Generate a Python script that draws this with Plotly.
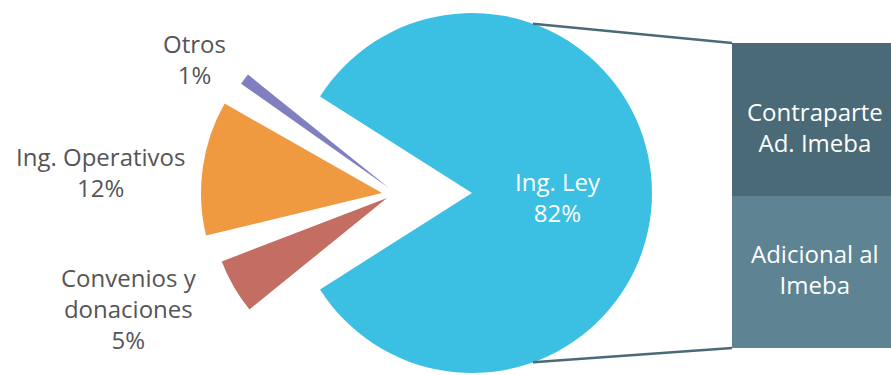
import math
import plotly.graph_objects as go

# ---------------- data ----------------
pie_labels = ["Ing. Ley", "Ing. Operativos", "Convenios y<br>donaciones", "Otros"]
pie_values = [82, 12, 5, 1]
pie_colors = ["#3BC0E4", "#EF9A40", "#C46D62", "#8080C0"]

bar_labels = ["Adicional al<br>Imeba", "Contraparte<br>Ad. Imeba"]
bar_values = [41, 41]
bar_colors = ["#5E8392", "#496A76"]

# ---------------- layout helpers ----------------
W, H = 891, 375
FONT = "Open Sans"
TOTAL = sum(pie_values)

def clamp(v):
    return max(0.0, min(1.0, v))

def pie_domain(cx, cy, r):
    return dict(x=[clamp((cx - r) / W), clamp((cx + r) / W)],
                y=[clamp(1 - (cy + r) / H), clamp(1 - (cy - r) / H)])

def wrap(a):
    return (a + 180) % 360 - 180

# geometry (centre px, radius px, bisector direction deg clockwise from north)
geo = {
    "Ing. Ley": dict(cx=472, cy=193, r=180, dir=90),
    "Ing. Operativos": dict(cx=382, cy=193, r=181, dir=270 + 8),
    "Convenios y<br>donaciones": dict(cx=387, cy=198, r=177, dir=270 - 30),
    "Otros": dict(cx=389, cy=188, r=181, dir=270 + 37),
}

fig = go.Figure()

for lab, val, col in zip(pie_labels, pie_values, pie_colors):
    g = geo[lab]
    w = val / TOTAL * 360
    fig.add_trace(go.Pie(
        labels=[lab, "resto"],
        values=[val, TOTAL - val],
        sort=False,
        direction="clockwise",
        rotation=wrap(g["dir"] - w / 2),
        marker=dict(colors=[col, "rgba(0,0,0,0)"], line=dict(width=0)),
        textinfo="none",
        hoverinfo="label+percent",
        showlegend=False,
        domain=pie_domain(g["cx"], g["cy"], g["r"]),
    ))

# ---------------- stacked bar ----------------
bar_px_left, bar_px_top, bar_px_bottom = 732, 43, 348
for lab, val, col in zip(bar_labels, bar_values, bar_colors):
    fig.add_trace(go.Bar(
        x=[0], y=[val], width=1, name=lab.replace("<br>", " "),
        marker=dict(color=col, line=dict(width=0)),
        showlegend=False, hoverinfo="name+y",
        xaxis="x", yaxis="y",
    ))

ydom = [(H - bar_px_bottom) / H, (H - bar_px_top) / H]
fig.update_layout(
    width=W, height=H,
    margin=dict(l=0, r=0, t=0, b=0),
    paper_bgcolor="white", plot_bgcolor="rgba(0,0,0,0)",
    barmode="stack", bargap=0,
    xaxis=dict(domain=[bar_px_left / W, 1], range=[-0.5, 0.5], visible=False, fixedrange=True),
    yaxis=dict(domain=ydom, range=[0, sum(bar_values)], visible=False, fixedrange=True),
    font=dict(family=FONT),
)

# ---------------- labels ----------------
label_pos = {
    "Ing. Ley": (558, 197),
    "Ing. Operativos": (100, 172),
    "Convenios y<br>donaciones": (129, 308),
    "Otros": (194, 59),
}
for lab, val in zip(pie_labels, pie_values):
    px, py = label_pos[lab]
    color = "white" if lab == "Ing. Ley" else "#555557"
    fig.add_annotation(
        text=f"{lab}<br>{val}%", x=px / W, y=1 - py / H, xref="paper", yref="paper",
        showarrow=False, xanchor="center", yanchor="middle",
        font=dict(family=FONT, size=24, color=color, weight=500),
    )

cum = 0
shifts = [3, -8]
for lab, val, sh in zip(bar_labels, bar_values, shifts):
    fig.add_annotation(
        text=lab, x=0.02, y=cum + val / 2, xref="x", yref="y", yshift=sh,
        showarrow=False, xanchor="center", yanchor="middle",
        font=dict(family=FONT, size=24, color="white", weight=500),
    )
    cum += val

# ---------------- connector lines ----------------
g = geo["Ing. Ley"]
ang = math.radians(19.8)
for sgn, yend in [(-1, ydom[1]), (1, ydom[0])]:
    sx = g["cx"] + g["r"] * math.sin(ang)
    sy = g["cy"] + sgn * g["r"] * math.cos(ang)
    fig.add_shape(type="line", xref="paper", yref="paper",
                  x0=sx / W, y0=1 - sy / H, x1=bar_px_left / W, y1=yend,
                  line=dict(color="#4A6A77", width=2.5))

fig.write_html("out.html",
               config={"displayModeBar": False},
               post_script="document.body.style.margin='0px';document.body.style.overflow='hidden';")
